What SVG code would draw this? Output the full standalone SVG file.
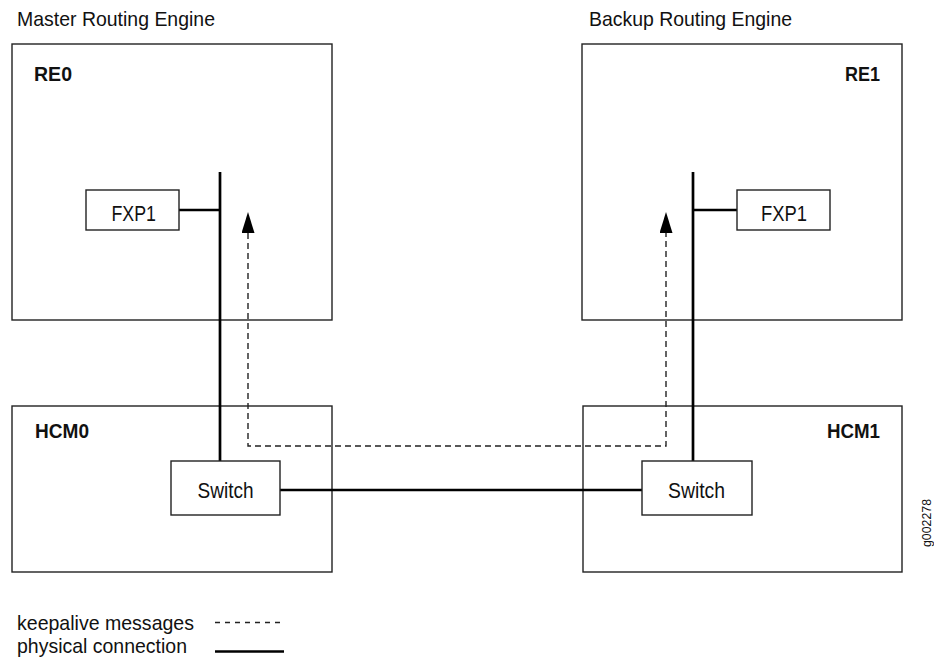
<svg xmlns="http://www.w3.org/2000/svg" width="934" height="668" viewBox="0 0 934 668">
  <style>
    .box { fill: #ffffff; stroke: #222222; stroke-width: 1.4; }
    .lbl { font-family: "Liberation Sans", Arial, Helvetica, sans-serif; fill: #111111; }
    .cap { font-size: 21px; }
    .title { font-size: 20px; font-weight: bold; }
    .inner { font-size: 22px; }
    .phys { fill: none; stroke: #000000; stroke-width: 2.7; }
    .keep { fill: none; stroke: #222222; stroke-width: 1.4; stroke-dasharray: 6 4; }
  </style>
  <defs>
    <marker id="arrowUp" markerUnits="userSpaceOnUse" viewBox="0 -6.5 21 13" refX="0" refY="0" markerWidth="21" markerHeight="13" orient="auto-start-reverse">
      <path d="M0,-6.5 L21,0 L0,6.5 z" fill="#000000"/>
    </marker>
  </defs>

  <rect width="934" height="668" fill="#ffffff"/>

  <!-- section captions -->
  <text class="lbl cap" x="17" y="25.5" textLength="198" lengthAdjust="spacingAndGlyphs">Master Routing Engine</text>
  <text class="lbl cap" x="589" y="25.5" textLength="203" lengthAdjust="spacingAndGlyphs">Backup Routing Engine</text>

  <!-- routing engines -->
  <g id="re0">
    <rect class="box" x="12" y="44" width="320" height="276"/>
    <text class="lbl title" x="34" y="81" textLength="38" lengthAdjust="spacingAndGlyphs">RE0</text>
  </g>
  <g id="re1">
    <rect class="box" x="582" y="44" width="320" height="276"/>
    <text class="lbl title" x="845" y="81" textLength="35" lengthAdjust="spacingAndGlyphs">RE1</text>
  </g>

  <!-- host control modules -->
  <g id="hcm0">
    <rect class="box" x="12" y="406" width="320" height="166"/>
    <text class="lbl title" x="35" y="438" textLength="54" lengthAdjust="spacingAndGlyphs">HCM0</text>
  </g>
  <g id="hcm1">
    <rect class="box" x="583" y="406" width="319" height="166"/>
    <text class="lbl title" x="827" y="438" textLength="53" lengthAdjust="spacingAndGlyphs">HCM1</text>
  </g>

  <!-- connectors -->
  <g id="connectors">
    <!-- physical links -->
    <path class="phys" d="M220,172 V461"/>
    <path class="phys" d="M179,210 H220"/>
    <path class="phys" d="M693,172 V461"/>
    <path class="phys" d="M693,210 H737"/>
    <path class="phys" d="M280,490 H642"/>
    <!-- keepalive path between the engines -->
    <path class="keep" d="M248,233 V446 H666 V233" marker-start="url(#arrowUp)" marker-end="url(#arrowUp)"/>
  </g>

  <!-- interfaces -->
  <g id="fxp1-re0">
    <rect class="box" x="86" y="190" width="93" height="40"/>
    <text class="lbl inner" x="111.5" y="221" textLength="44.5" lengthAdjust="spacingAndGlyphs">FXP1</text>
  </g>
  <g id="fxp1-re1">
    <rect class="box" x="737" y="190" width="93" height="40"/>
    <text class="lbl inner" x="761" y="221" textLength="46" lengthAdjust="spacingAndGlyphs">FXP1</text>
  </g>

  <!-- switches -->
  <g id="switch-hcm0">
    <rect class="box" x="171" y="461" width="109" height="54"/>
    <text class="lbl inner" x="197.5" y="497.5" textLength="56" lengthAdjust="spacingAndGlyphs">Switch</text>
  </g>
  <g id="switch-hcm1">
    <rect class="box" x="642" y="461" width="110" height="54"/>
    <text class="lbl inner" x="668" y="497.5" textLength="57" lengthAdjust="spacingAndGlyphs">Switch</text>
  </g>

  <!-- legend -->
  <g id="legend">
    <text class="lbl cap" x="17" y="630" textLength="177" lengthAdjust="spacingAndGlyphs">keepalive messages</text>
    <path d="M215,622.5 H284" fill="none" stroke="#222222" stroke-width="1.3" stroke-dasharray="5 5"/>
    <text class="lbl cap" x="17" y="653" textLength="170" lengthAdjust="spacingAndGlyphs">physical connection</text>
    <path class="phys" d="M215,651.5 H284"/>
  </g>

  <!-- figure id -->
  <text class="lbl" font-size="13" transform="translate(931,547) rotate(-90)" x="0" y="0" textLength="48" lengthAdjust="spacingAndGlyphs">g002278</text>
</svg>
